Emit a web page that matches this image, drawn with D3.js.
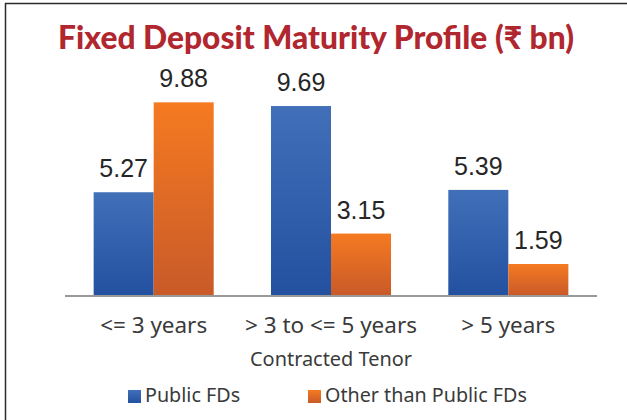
<!DOCTYPE html>
<html>
<head>
<meta charset="utf-8">
<script src="https://cdn.jsdelivr.net/npm/d3@7"></script>
<style>
  body { margin: 0; background: #fff; }
  svg { display: block; }
</style>
</head>
<body>
<div id="chart"></div>
<script>
const categories = ["<= 3 years", "> 3 to <= 5 years", "> 5 years"]
const seriesNames = ["Public FDs", "Other than Public FDs"]
const publicFDs = [5.27, 9.69, 5.39]
const otherFDs = [9.88, 3.15, 1.59]

const width = 627
const height = 420
const plot = { left: 65, right: 597, top: 61, bottom: 295 }
const textFont = "'Noto Sans', Lato, sans-serif"

const svg = d3.select("#chart")
    .append("svg")
    .attr("width", width)
    .attr("height", height)

// size a text so its width matches what the reference shows
function fitSize(sel, target) {
    const w = sel.node().getComputedTextLength()
    const s = parseFloat(sel.style("font-size"))
    return s * target / w
}

// gradients like the office chart fill
const defs = svg.append("defs")
const grads = [
    { id: "gBlue", top: "#416fb8", bottom: "#2351a0" },
    { id: "gOrange", top: "#f57a21", bottom: "#c95a29" }
]
grads.forEach(g => {
    const lg = defs.append("linearGradient")
        .attr("id", g.id).attr("x1", 0).attr("y1", 0).attr("x2", 0).attr("y2", 1)
    lg.append("stop").attr("offset", "0%").attr("stop-color", g.top)
    lg.append("stop").attr("offset", "100%").attr("stop-color", g.bottom)
})

// frame (top and left edges only)
svg.append("line").attr("x1", 5).attr("x2", width).attr("y1", 3.5).attr("y2", 3.5)
    .attr("stroke", "#2b2b2b").attr("stroke-width", 1.5)
svg.append("line").attr("x1", 5.5).attr("x2", 5.5).attr("y1", 3).attr("y2", height)
    .attr("stroke", "#2b2b2b").attr("stroke-width", 1.5)

// title
const title = svg.append("text")
    .attr("x", 316)
    .attr("y", 49)
    .attr("text-anchor", "middle")
    .attr("fill", "#b1272f")
    .style("font-family", "Lato, 'Noto Sans', sans-serif")
    .style("font-weight", "900")
    .style("font-size", "28px")
    .text("Fixed Deposit Maturity Profile (₹ bn)")
title.style("font-size", fitSize(title, 516) + "px")

const x = d3.scaleBand()
    .domain(categories)
    .range([plot.left, plot.right])
    .paddingInner(0.323)
    .paddingOuter(0.1615)

const xSub = d3.scaleBand()
    .domain(seriesNames)
    .range([0, x.bandwidth()])

const y = d3.scaleLinear()
    .domain([0, 12])
    .range([plot.bottom, plot.top])

const color = d3.scaleOrdinal()
    .domain(seriesNames)
    .range(["url(#gBlue)", "url(#gOrange)"])

const rows = categories.map((c, i) => ({
    cat: c,
    vals: [
        { name: seriesNames[0], value: publicFDs[i] },
        { name: seriesNames[1], value: otherFDs[i] }
    ]
}))

const group = svg.append("g")
    .selectAll("g")
    .data(rows)
    .join("g")
    .attr("transform", d => `translate(${x(d.cat)},0)`)

group.selectAll("rect")
    .data(d => d.vals)
    .join("rect")
    .attr("x", d => xSub(d.name))
    .attr("y", d => y(d.value))
    .attr("width", xSub.bandwidth())
    .attr("height", d => y(0) - y(d.value))
    .attr("fill", d => color(d.name))

// value labels
group.selectAll("text")
    .data(d => d.vals)
    .join("text")
    .attr("x", d => xSub(d.name) + xSub.bandwidth() / 2)
    .attr("y", d => y(d.value) - 15)
    .attr("text-anchor", "middle")
    .attr("fill", "#262626")
    .style("font-family", "'Liberation Sans', Arial, sans-serif")
    .style("font-size", "25px")
    .text(d => d.value.toFixed(2))

// axis baseline
svg.append("line")
    .attr("x1", plot.left).attr("x2", plot.right)
    .attr("y1", y(0) + 1).attr("y2", y(0) + 1)
    .attr("stroke", "#999999").attr("stroke-width", 2)

// category labels
const catLabels = svg.append("g")
    .selectAll("text")
    .data(categories)
    .join("text")
    .attr("x", d => x(d) + x.bandwidth() / 2)
    .attr("y", 333)
    .attr("text-anchor", "middle")
    .attr("fill", "#3a3a3a")
    .style("font-family", textFont)
    .style("font-size", "18px")
    .text(d => d)
catLabels.style("font-size", fitSize(catLabels.filter((d, i) => i === 0), 107) + "px")

// axis title
const axisTitle = svg.append("text")
    .attr("x", (plot.left + plot.right) / 2)
    .attr("y", 366)
    .attr("text-anchor", "middle")
    .attr("fill", "#3a3a3a")
    .style("font-family", textFont)
    .style("font-size", "17px")
    .text("Contracted Tenor")
axisTitle.style("font-size", fitSize(axisTitle, 162) + "px")

// legend
const legendX = [128, 308]
const legend = svg.append("g")
    .selectAll("g")
    .data(seriesNames)
    .join("g")
    .attr("transform", (d, i) => `translate(${legendX[i]},390)`)

legend.append("rect")
    .attr("width", 13).attr("height", 13)
    .attr("fill", d => color(d))

const legendText = legend.append("text")
    .attr("x", 17)
    .attr("y", 12)
    .attr("fill", "#3a3a3a")
    .style("font-family", textFont)
    .style("font-size", "17px")
    .text(d => d)
legendText.style("font-size", fitSize(legendText.filter((d, i) => i === 1), 202) + "px")
</script>
</body>
</html>
